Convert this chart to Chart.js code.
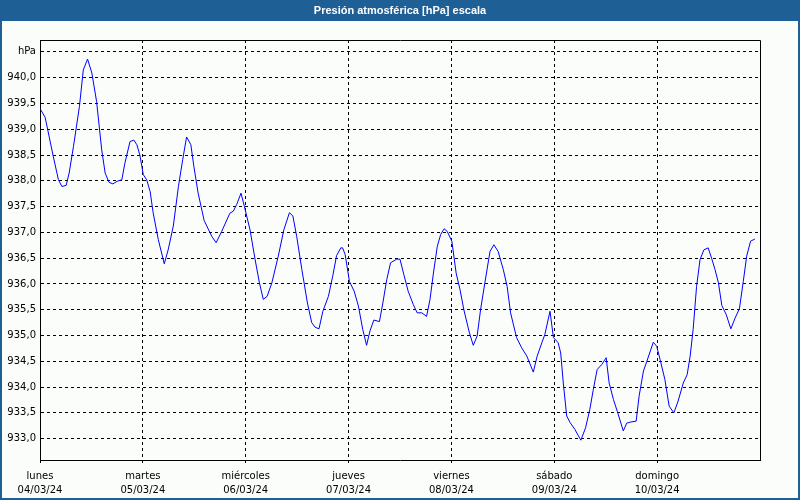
<!DOCTYPE html>
<html>
<head>
<meta charset="utf-8">
<script src="https://cdn.jsdelivr.net/npm/chart.js@4/dist/chart.umd.min.js"></script>
<style>
  html, body { margin: 0; padding: 0; background: #1e5f96; }
  #wrap { width: 800px; height: 500px; position: relative; }
  canvas { display: block; }
</style>
</head>
<body>
<div id="wrap"><canvas id="c" width="800" height="500"></canvas></div>
<script>
// ---- data (hours since lunes 04/03/24 00:00, pressure in hPa) ----
const hours = [0, 1.2, 3.1, 4.3, 5.1, 6.1, 6.8, 7.8, 9.2, 10.1, 11.1, 12.1, 13.2, 14.4, 15.2, 16.1, 17.0, 18.0, 19.1, 19.8,
  21.0, 21.9, 22.6, 23.3, 24.1, 24.9, 25.7, 26.4, 27.6, 29.0, 29.9, 31.1, 32.3, 33.3, 34.2, 35.2, 35.9, 36.9, 38.3, 40.1,
  41.1, 42.4, 44.3, 45.1, 45.9, 46.9, 47.7, 49.0, 50.2, 51.2, 52.1, 53.0, 54.1, 55.6, 56.9, 58.2, 59.0, 59.9, 61.1, 62.4,
  63.4, 64.2, 65.1, 66.0, 67.3, 68.3, 69.2, 70.2, 70.6, 71.2, 72.2, 73.3, 74.3, 75.3, 76.2, 77.0, 77.9, 79.2, 80.0, 80.9,
  81.8, 83.2, 84.0, 84.9, 85.9, 87.1, 88.0, 89.1, 90.2, 91.0, 91.8, 92.7, 93.5, 94.3, 95.0, 96.1, 97.1, 98.0, 98.9, 100.2,
  101.1, 102.0, 102.8, 103.8, 105.0, 105.9, 106.9, 108.1, 109.0, 109.8, 111.2, 112.4, 113.6, 115.1, 116.0, 117.1, 117.8, 119.0, 119.8, 120.9,
  121.5, 122.1, 122.9, 123.7, 124.8, 126.2, 127.3, 128.3, 129.1, 130.0, 131.1, 132.1, 132.8, 133.8, 134.7, 136.1, 136.9, 137.7, 139.1, 139.8,
  140.8, 141.6, 143.1, 143.9, 144.7, 145.8, 146.8, 147.9, 148.9, 150.1, 151.0, 151.7, 152.4, 153.2, 154.0, 154.9, 155.9, 156.7, 157.5, 158.3,
  159.1, 160.1, 161.2, 162.2, 163.2, 164.1, 164.9, 165.8, 166.8];
const pressure = [939.40, 939.23, 938.47, 938.02, 937.89, 937.91, 938.15, 938.66, 939.44, 940.15, 940.36, 940.09, 939.54, 938.60, 938.15, 937.97, 937.94, 937.99, 938.02, 938.34,
  938.76, 938.79, 938.70, 938.50, 938.12, 938.02, 937.79, 937.38, 936.86, 936.39, 936.66, 937.12, 937.89, 938.41, 938.85, 938.70, 938.28, 937.76, 937.23, 936.92,
  936.80, 937.02, 937.37, 937.41, 937.54, 937.76, 937.50, 937.05, 936.47, 936.02, 935.70, 935.76, 936.02, 936.54, 937.05, 937.38, 937.32, 936.92, 936.28, 935.63,
  935.25, 935.16, 935.13, 935.47, 935.76, 936.15, 936.55, 936.70, 936.70, 936.57, 936.05, 935.86, 935.57, 935.12, 934.81, 935.09, 935.30, 935.27, 935.63, 936.08,
  936.41, 936.48, 936.48, 936.18, 935.86, 935.60, 935.44, 935.44, 935.37, 935.70, 936.21, 936.73, 936.96, 937.07, 937.02, 936.83, 936.21, 935.89, 935.50, 935.05,
  934.81, 934.99, 935.50, 936.02, 936.63, 936.76, 936.63, 936.28, 935.95, 935.44, 934.96, 934.76, 934.60, 934.29, 934.60, 934.86, 935.02, 935.47, 934.96, 934.86,
  934.66, 934.08, 933.44, 933.31, 933.18, 932.97, 933.21, 933.57, 933.95, 934.34, 934.44, 934.57, 934.08, 933.76, 933.53, 933.15, 933.30, 933.32, 933.34, 933.83,
  934.31, 934.50, 934.87, 934.79, 934.53, 934.15, 933.63, 933.50, 933.73, 934.08, 934.24, 934.60, 935.12, 935.95, 936.47, 936.66, 936.70, 936.50, 936.28, 936.02,
  935.58, 935.41, 935.13, 935.34, 935.52, 936.05, 936.54, 936.83, 936.87];
const dayNames = ['lunes', 'martes', 'miércoles', 'jueves', 'viernes', 'sábado', 'domingo'];
const dayDates = ['04/03/24', '05/03/24', '06/03/24', '07/03/24', '08/03/24', '09/03/24', '10/03/24'];
const dayHours = [0, 24, 48, 72, 96, 120, 144];
const yTicks = [933.0, 933.5, 934.0, 934.5, 935.0, 935.5, 936.0, 936.5, 937.0, 937.5, 938.0, 938.5, 939.0, 939.5, 940.0, 940.5];
const unitLabel = 'hPa';
const titleText = 'Presión atmosférica [hPa] escala';

const points = hours.map((h, i) => ({ x: h, y: pressure[i] }));

const frame = {
  id: 'frame',
  beforeDraw(chart) {
    const ctx = chart.ctx;
    ctx.save();
    ctx.fillStyle = '#1e5f96';
    ctx.fillRect(0, 0, 800, 500);
    ctx.fillStyle = '#fbfdfb';
    ctx.fillRect(2, 21, 796, 477);
    ctx.restore();
  },
  afterDraw(chart) {
    const a = chart.chartArea;
    const ctx = chart.ctx;
    ctx.save();
    ctx.strokeStyle = '#000000';
    ctx.lineWidth = 1;
    ctx.beginPath();
    ctx.moveTo(Math.round(a.left) + 0.5, Math.round(a.top) + 0.5);
    ctx.lineTo(Math.round(a.right) + 0.5, Math.round(a.top) + 0.5);
    ctx.lineTo(Math.round(a.right) + 0.5, Math.round(a.bottom) + 0.5);
    ctx.stroke();
    ctx.restore();
  }
};

new Chart(document.getElementById('c'), {
  type: 'line',
  data: {
    datasets: [{
      data: points,
      borderColor: '#0000ff',
      borderWidth: 1,
      pointRadius: 0,
      tension: 0,
      fill: false,
      yAxisID: 'y'
    }]
  },
  options: {
    responsive: false,
    animation: false,
    layout: { padding: { left: 0, right: 0, top: 0, bottom: 0 } },
    plugins: {
      legend: { display: false },
      tooltip: { enabled: false },
      title: {
        display: true,
        text: titleText,
        color: '#ffffff',
        font: { family: 'Liberation Sans', size: 11, weight: 'bold', lineHeight: 1 },
        padding: { top: 5, bottom: 24 }
      }
    },
    scales: {
      x: {
        type: 'linear',
        min: 0,
        max: 168,
        afterBuildTicks(scale) { scale.ticks = dayHours.map(v => ({ value: v })); },
        afterFit(scale) { scale.height = 40; },
        grid: {
          color: '#000000',
          lineWidth: 1,
          drawTicks: true,
          tickLength: 3,
          tickBorderDash: [],
          tickColor: '#000000'
        },
        border: { display: true, color: '#000000', width: 1, dash: [3, 3] },
        ticks: {
          autoSkip: false,
          maxRotation: 0,
          padding: 6,
          color: '#000000',
          font: { family: 'DejaVu Sans', size: 10, lineHeight: 1.45 },
          callback(v) {
            const i = dayHours.indexOf(v);
            return i >= 0 ? [dayNames[i], dayDates[i]] : '';
          }
        }
      },
      y: {
        type: 'linear',
        position: 'left',
        min: 932.586,
        max: 940.73,
        afterBuildTicks(scale) { scale.ticks = yTicks.map(v => ({ value: v })); },
        afterFit(scale) { scale.width = 40; },
        grid: {
          color: '#000000',
          lineWidth: 1,
          drawTicks: false
        },
        border: { display: true, color: '#000000', width: 1, dash: [3, 3] },
        ticks: {
          padding: 4,
          color: '#000000',
          font: { family: 'DejaVu Sans', size: 10 },
          callback(v) {
            if (Math.abs(v - 940.5) < 1e-6) return unitLabel;
            return v.toFixed(1).replace('.', ',');
          }
        }
      },
      yRight: {
        type: 'linear',
        position: 'right',
        min: 932.586,
        max: 940.73,
        afterFit(scale) { scale.width = 40; },
        grid: { display: false, drawOnChartArea: false },
        border: { display: false },
        ticks: { display: false }
      }
    }
  },
  plugins: [frame]
});
</script>
</body>
</html>
